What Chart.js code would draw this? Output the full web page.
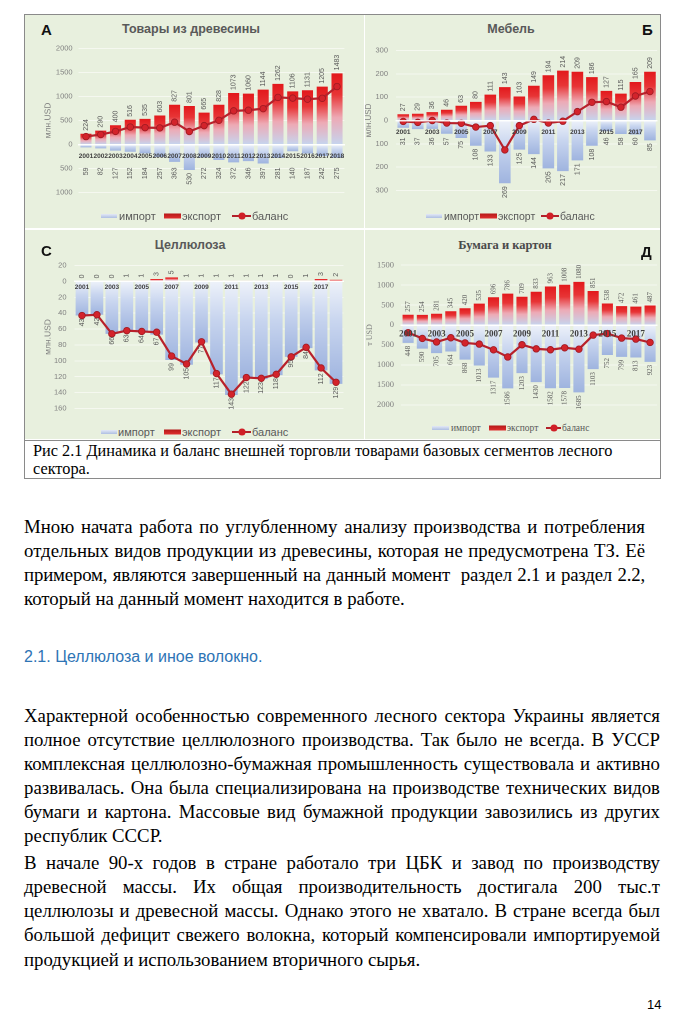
<!DOCTYPE html>
<html><head><meta charset="utf-8">
<script src="https://cdn.jsdelivr.net/npm/chart.js@4.4.1/dist/chart.umd.min.js"></script>
<style>
html,body{margin:0;padding:0;background:#fff;}
body{width:679px;height:1024px;position:relative;overflow:hidden;font-family:"Liberation Serif",serif;color:#000;}
.a{position:absolute;}
.fig{left:24px;top:14px;width:637px;height:465px;border:1px solid #8a8a8a;box-sizing:border-box;}
.panel{position:absolute;background:#e8f0de;}
.cw{position:absolute;}
.ttl{position:absolute;font-family:"Liberation Sans",sans-serif;font-weight:bold;font-size:12.5px;color:#595959;transform:translate(-50%,-50%);white-space:nowrap;}
.let{position:absolute;font-family:"Liberation Sans",sans-serif;font-weight:bold;font-size:15px;color:#111;transform:translateY(-50%);}
.lt{position:absolute;font-family:"Liberation Sans",sans-serif;font-size:11px;color:#595959;transform:translateY(-50%);white-space:nowrap;}
.si{position:absolute;height:4px;background:linear-gradient(#e3e9f6,#aebfe2);transform:translateY(-50%);}
.se{position:absolute;height:5px;background:linear-gradient(#b51818,#e03030);transform:translateY(-50%);}
.sb{position:absolute;height:2px;background:#b3202a;transform:translateY(-50%);}
.sb::after{content:"";position:absolute;left:50%;top:50%;width:7px;height:7px;border-radius:50%;background:#d01f27;transform:translate(-50%,-50%);}
.cap{left:24px;top:440px;width:637px;height:39px;border-top:1px solid #8a8a8a;}
.capt{position:absolute;left:33px;font-size:16.3px;line-height:18px;white-space:nowrap;}
.ln{position:absolute;left:24px;font-size:18.8px;line-height:24px;white-space:nowrap;}
.j{text-align:justify;text-align-last:justify;white-space:normal;}
</style>
</head><body>

<div class="a fig"></div>
<div class="panel" style="left:25px;top:15px;width:339px;height:213px;"></div>
<div class="panel" style="left:365px;top:15px;width:295px;height:213px;"></div>
<div class="panel" style="left:25px;top:230px;width:339px;height:209px;"></div>
<div class="panel" style="left:365px;top:230px;width:295px;height:209px;"></div>

<div class="cw" style="left:40px;top:38px;width:310px;height:165px;"><canvas id="cA"></canvas></div>
<div class="cw" style="left:364px;top:38px;width:298px;height:165px;"><canvas id="cB"></canvas></div>
<div class="cw" style="left:40px;top:253px;width:310px;height:168px;"><canvas id="cC"></canvas></div>
<div class="cw" style="left:364px;top:253px;width:298px;height:164px;"><canvas id="cD"></canvas></div>

<div class="ttl" style="left:191px;top:29px;">Товары из древесины</div>
<div class="ttl" style="left:511px;top:29px;">Мебель</div>
<div class="ttl" style="left:190px;top:245px;">Целлюлоза</div>
<div class="ttl" style="left:505px;top:245px;font-family:'Liberation Serif',serif;color:#4a4a4a;">Бумага и картон</div>
<div class="let" style="left:41px;top:29px;">А</div>
<div class="let" style="left:642px;top:29px;">Б</div>
<div class="let" style="left:41px;top:250px;">С</div>
<div class="let" style="left:641px;top:251px;">Д</div>

<!-- legends -->
<div class="si" style="left:101px;top:216px;width:16px;"></div><div class="lt" style="left:119px;top:216px;">импорт</div>
<div class="se" style="left:164px;top:216px;width:17px;"></div><div class="lt" style="left:182px;top:216px;">экспорт</div>
<div class="sb" style="left:232px;top:216px;width:19px;"></div><div class="lt" style="left:252px;top:216px;">баланс</div>

<div class="si" style="left:426px;top:216px;width:16px;"></div><div class="lt" style="left:444px;top:216px;font-size:10.5px;">импорт</div>
<div class="se" style="left:480px;top:216px;width:17px;"></div><div class="lt" style="left:498px;top:216px;font-size:10.5px;">экспорт</div>
<div class="sb" style="left:541px;top:216px;width:18px;"></div><div class="lt" style="left:560px;top:216px;font-size:10.5px;">баланс</div>

<div class="si" style="left:101px;top:432px;width:16px;"></div><div class="lt" style="left:118px;top:432px;">импорт</div>
<div class="se" style="left:164px;top:432px;width:17px;"></div><div class="lt" style="left:182px;top:432px;">экспорт</div>
<div class="sb" style="left:232px;top:432px;width:19px;"></div><div class="lt" style="left:252px;top:432px;">баланс</div>

<div class="si" style="left:432px;top:428px;width:17px;"></div><div class="lt" style="left:451px;top:428px;font-family:'Liberation Serif',serif;font-size:9.5px;">импорт</div>
<div class="se" style="left:489px;top:428px;width:17px;"></div><div class="lt" style="left:507px;top:428px;font-family:'Liberation Serif',serif;font-size:9.5px;">экспорт</div>
<div class="sb" style="left:546px;top:428px;width:15px;"></div><div class="lt" style="left:562px;top:428px;font-family:'Liberation Serif',serif;font-size:9.5px;">баланс</div>

<div class="a cap"></div>
<div class="capt" style="top:442px;">Рис 2.1 Динамика и баланс внешней торговли товарами базовых сегментов лесного</div>
<div class="capt" style="top:460px;">сектора.</div>

<div class="ln j" style="top:515px;width:621px;">Мною начата работа по углубленному анализу производства и потребления</div>
<div class="ln j" style="top:539px;width:621px;">отдельных видов продукции из древесины, которая не предусмотрена ТЗ. Её</div>
<div class="ln j" style="top:563px;width:621px;letter-spacing:-0.15px;">примером, являются завершенный на данный момент&nbsp; раздел 2.1 и раздел 2.2,</div>
<div class="ln" style="top:587px;">который на данный момент находится в работе.</div>

<div class="a" style="left:24px;top:648px;font-family:'Liberation Sans',sans-serif;font-size:16px;color:#2e74b5;white-space:nowrap;">2.1. Целлюлоза и иное волокно.</div>

<div class="ln j" style="top:704px;width:636px;">Характерной особенностью современного лесного сектора Украины является</div>
<div class="ln j" style="top:728px;width:636px;">полное отсутствие целлюлозного производства. Так было не всегда. В УССР</div>
<div class="ln j" style="top:752px;width:636px;">комплексная целлюлозно-бумажная промышленность существовала и активно</div>
<div class="ln j" style="top:776px;width:636px;">развивалась. Она была специализирована на производстве технических видов</div>
<div class="ln j" style="top:800px;width:636px;">бумаги и картона. Массовые вид бумажной продукции завозились из других</div>
<div class="ln" style="top:824px;">республик СССР.</div>

<div class="ln j" style="top:851px;width:636px;">В начале 90-х годов в стране работало три ЦБК и завод по производству</div>
<div class="ln j" style="top:875px;width:636px;">древесной массы. Их общая производительность достигала 200 тыс.т</div>
<div class="ln j" style="top:899px;width:636px;">целлюлозы и древесной массы. Однако этого не хватало. В стране всегда был</div>
<div class="ln j" style="top:923px;width:636px;">большой дефицит свежего волокна, который компенсировали импортируемой</div>
<div class="ln" style="top:948px;">продукцией и использованием вторичного сырья.</div>

<div class="a" style="left:647px;top:997px;font-family:'Liberation Sans',sans-serif;font-size:13px;">14</div>

<script>
const years = ['2001','2002','2003','2004','2005','2006','2007','2008','2009','2010','2011','2012','2013','2014','2015','2016','2017','2018'];

// A: Товары из древесины (млн USD)
const woodExport  = [224, 290, 400, 516, 535, 603, 827, 801, 665, 828, 1073, 1060, 1144, 1262, 1106, 1131, 1205, 1483];
const woodImport  = [59, 82, 127, 152, 184, 257, 363, 530, 272, 324, 372, 346, 397, 281, 140, 187, 242, 275];
const woodBalance = [165, 208, 273, 364, 351, 346, 464, 271, 393, 504, 701, 714, 747, 981, 966, 944, 963, 1208];

// Б: Мебель (млн USD)
const furnExport  = [27, 29, 36, 46, 63, 80, 111, 143, 103, 149, 194, 214, 209, 186, 127, 115, 165, 209];
const furnImport  = [31, 37, 36, 57, 75, 108, 133, 269, 125, 144, 205, 217, 171, 108, 46, 58, 60, 85];
const furnBalance = [-4, -8, 0, -11, -12, -28, -22, -126, -22, 5, -11, -3, 38, 78, 81, 57, 105, 124];

// С: Целлюлоза (млн USD)
const pulpExport  = [0, 0, 0, 1, 1, 3, 5, 1, 1, 1, 1, 1, 1, 1, 0, 1, 3, 2];
const pulpImport  = [43, 42, 66, 63, 64, 67, 99, 105, 77, 117, 143, 122, 123, 118, 95, 84, 112, 129];
const pulpBalance = [-43, -42, -66, -62, -63, -64, -94, -104, -76, -116, -142, -121, -122, -117, -95, -83, -109, -127];

// Д: Бумага и картон (т USD)
const paperExport  = [257, 254, 281, 345, 420, 535, 696, 786, 709, 833, 963, 1008, 1080, 851, 538, 472, 461, 487];
const paperImport  = [448, 590, 705, 664, 868, 1013, 1317, 1586, 1203, 1430, 1582, 1578, 1685, 1103, 752, 799, 813, 923];
const paperBalance = [-191, -336, -424, -319, -448, -478, -621, -800, -494, -597, -619, -570, -605, -252, -214, -327, -352, -436];

function barGrad(context, stops) {
  const chart = context.chart;
  const {ctx, chartArea, scales} = chart;
  if (!chartArea || context.type !== 'data' || !scales.y) return stops[0][1];
  const v = context.raw;
  const y0 = scales.y.getPixelForValue(0);
  const y1 = scales.y.getPixelForValue(v);
  if (Math.abs(y1 - y0) < 0.5) return stops[0][1];
  const g = ctx.createLinearGradient(0, y1, 0, y0);
  stops.forEach(s => g.addColorStop(s[0], s[1]));
  return g;
}
const expStops = [[0,'#e3191c'],[0.3,'#e83536'],[0.62,'#eeaab5'],[1,'#c6d5ef']];
const impStops = [[0,'#9fb4df'],[0.6,'#c8d5ef'],[1,'#eef2fa']];

const valueLabels = {
  id: 'valueLabels',
  afterDatasetsDraw(chart) {
    const {ctx} = chart;
    const o = chart.options.plugins.valueLabels;
    const zero = chart.scales.y.getPixelForValue(0);
    chart.data.datasets.forEach((ds, di) => {
      if (!ds.vLabels) return;
      const meta = chart.getDatasetMeta(di);
      meta.data.forEach((el, i) => {
        const txt = String(ds.vLabels[i]);
        ctx.save();
        ctx.font = o.font;
        ctx.fillStyle = o.color;
        ctx.textBaseline = 'middle';
        if (ds.vSide === 'top') {
          ctx.translate(el.x, Math.min(el.y, zero) - o.gap);
          ctx.rotate(-Math.PI / 2);
          ctx.textAlign = 'left';
        } else {
          ctx.translate(el.x, Math.max(el.y + o.gap, zero + o.minBelow));
          ctx.rotate(-Math.PI / 2);
          ctx.textAlign = 'right';
        }
        ctx.fillText(txt, 0, 0);
        ctx.restore();
      });
    });
  }
};

function makeChart(id, p) {
  const el = document.getElementById(id);
  return new Chart(el, {
    data: {
      labels: years,
      datasets: [
        {type: 'line', label: 'баланс', data: p.bal, order: 0,
         borderColor: '#b8212b', borderWidth: 2.2, tension: 0,
         pointRadius: 3.3, pointBackgroundColor: '#d3232b', pointBorderColor: '#9e1a22', pointBorderWidth: 0.8},
        {type: 'bar', label: 'экспорт', data: p.exp, order: 1, grouped: false,
         barPercentage: p.barPct, categoryPercentage: 1,
         backgroundColor: c => barGrad(c, expStops),
         vLabels: p.exp, vSide: 'top'},
        {type: 'bar', label: 'импорт', data: p.imp.map(v => -v), order: 2, grouped: false,
         barPercentage: p.barPct, categoryPercentage: 1,
         backgroundColor: c => barGrad(c, impStops),
         vLabels: p.imp, vSide: 'bottom'}
      ]
    },
    options: {
      responsive: true, maintainAspectRatio: false, animation: false,
      devicePixelRatio: 2,
      layout: {padding: {top: 6, bottom: 6, left: 0, right: p.padRight}},
      plugins: {
        legend: {display: false}, tooltip: {enabled: false},
        valueLabels: {font: p.labelFont, color: '#595959', gap: 3, minBelow: p.minBelow}
      },
      scales: {
        x: {
          position: {y: 0}, offset: true,
          grid: {display: true, drawOnChartArea: false, drawTicks: true, tickLength: p.xTick, tickColor: 'rgba(0,0,0,0)', z: 1},
          border: {display: true, color: 'rgba(255,255,255,0.9)', width: 1.5, z: 1},
          ticks: {padding: 0, autoSkip: false, maxRotation: 0, minRotation: 0, z: 2,
                  color: '#3f3f3f', font: {family: p.family, size: p.xSize, weight: 'bold'},
                  callback: (v, i) => (p.everyOther && i % 2 === 1) ? '' : years[i]}
        },
        y: {
          min: p.min, max: p.max,
          afterFit: s => { s.width = p.yWidth; },
          grid: {color: 'rgba(255,255,255,0.55)', lineWidth: 1, drawTicks: false},
          border: {display: false},
          ticks: {stepSize: p.step, padding: p.yPad, color: '#808080',
                  font: {family: p.family, size: p.ySize},
                  callback: v => Math.abs(v)},
          title: {display: true, text: p.yTitle, color: '#7f7f7f',
                  font: {family: p.family, size: p.yTitleSize}, padding: {top: p.titlePad, bottom: 0}}
        }
      }
    },
    plugins: [valueLabels]
  });
}

makeChart('cA', {exp: woodExport, imp: woodImport, bal: woodBalance,
  min: -1000, max: 2000, step: 500, yWidth: 38.6, padRight: 5.6, barPct: 0.75,
  family: 'Liberation Sans', xSize: 6.5, ySize: 7.5, xTick: 8, yPad: 6,
  labelFont: '7px "Liberation Sans"', minBelow: 23, everyOther: false,
  yTitle: 'млн.USD', yTitleSize: 8.5, titlePad: 3});

makeChart('cB', {exp: furnExport, imp: furnImport, bal: furnBalance,
  min: -300, max: 300, step: 100, yWidth: 32, padRight: 2, barPct: 0.8,
  family: 'Liberation Sans', xSize: 6.5, ySize: 7.5, xTick: 8, yPad: 8,
  labelFont: '7px "Liberation Sans"', minBelow: 17, everyOther: true,
  yTitle: 'млн.USD', yTitleSize: 8, titlePad: 0});

makeChart('cC', {exp: pulpExport, imp: pulpImport, bal: pulpBalance,
  min: -160, max: 20, step: 20, yWidth: 34.5, padRight: 6.5, barPct: 0.85,
  family: 'Liberation Sans', xSize: 6.5, ySize: 7.5, xTick: 2, yPad: 8,
  labelFont: '7px "Liberation Sans"', minBelow: 3, everyOther: true,
  yTitle: 'млн.USD', yTitleSize: 8.5, titlePad: 3});

makeChart('cD', {exp: paperExport, imp: paperImport, bal: paperBalance,
  min: -2000, max: 1500, step: 500, yWidth: 37, padRight: 0, barPct: 0.78,
  family: 'Liberation Serif', xSize: 9, ySize: 8.5, xTick: 4, yPad: 7,
  labelFont: '7px "Liberation Serif"', minBelow: 3, everyOther: true,
  yTitle: 'т USD', yTitleSize: 8, titlePad: 1});
</script>
</body></html>
